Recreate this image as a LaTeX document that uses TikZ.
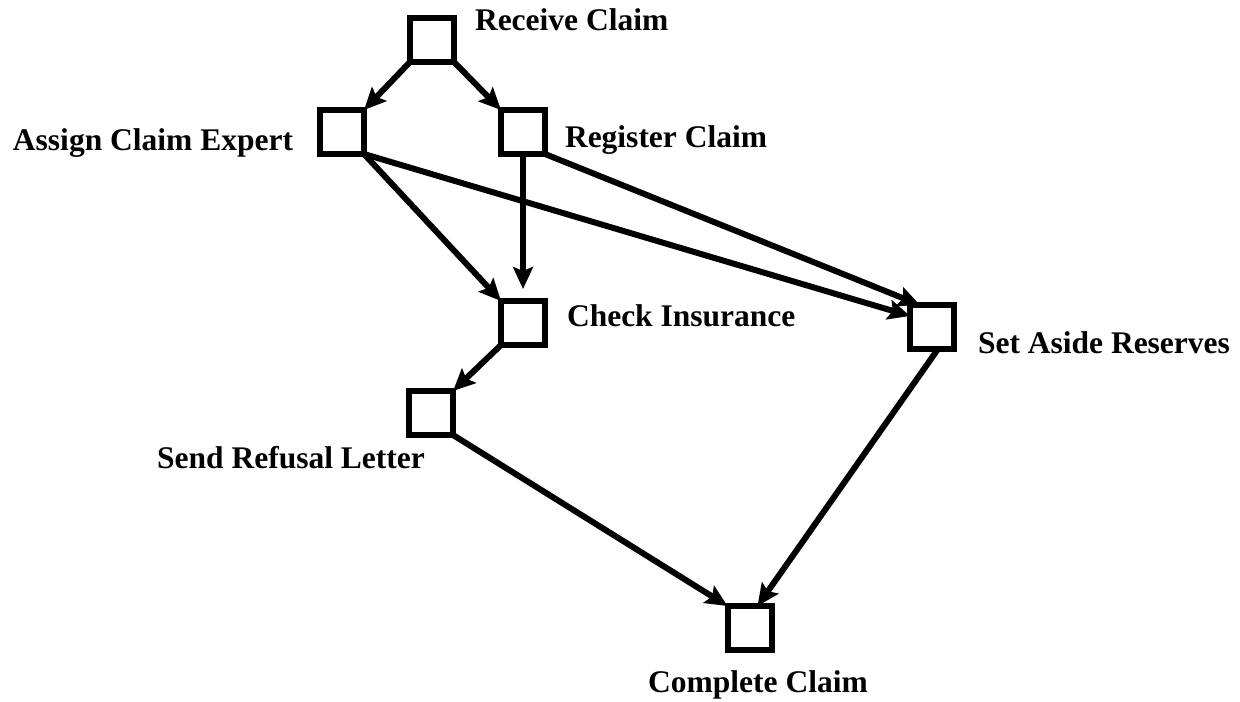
\documentclass[tikz,border=0pt]{standalone}
\usepackage{fontspec}
\setmainfont{Liberation Serif}
\usetikzlibrary{arrows.meta,calc}
\begin{document}
\begin{tikzpicture}[x=0.5pt,y=-0.5pt,
  task/.style={draw=black,line width=3pt,minimum size=22pt,inner sep=0pt,outer sep=0pt,fill=white},
  tasklabel/.style={inner sep=0pt,outer sep=0pt,font=\fontsize{15.75}{18}\selectfont\bfseries},
  flow/.style={line width=3pt,-{Stealth[length=11pt,width=10pt,inset=2pt]}}]
  % canvas
  \useasboundingbox (0,0) rectangle (1240,701);
  % activity boxes
  \node[task] (rc)  at (432,40)  {};
  \node[task] (ace) at (342,132) {};
  \node[task] (reg) at (523,132) {};
  \node[task] (ci)  at (523,323) {};
  \node[task] (sar) at (932,327) {};
  \node[task] (srl) at (431,413) {};
  \node[task] (cc)  at (749.5,628) {};
  % activity names
  \node[tasklabel,anchor=base west] (lrc)  at (475,31)  {Receive Claim};
  \node[tasklabel,anchor=base east] (lace) at (293,150) {Assign Claim Expert};
  \node[tasklabel,anchor=base west] (lreg) at (565,148) {Register Claim};
  \node[tasklabel,anchor=base west] (lci)  at (567,326) {Check Insurance};
  \node[tasklabel,anchor=base west] (lsar) at (978,353) {Set Aside Reserves};
  \node[tasklabel,anchor=base]      (lsrl) at (291,468) {Send Refusal Letter};
  \node[tasklabel,anchor=base]      (lcc)  at (758,692) {Complete Claim};
  % precedence arcs
  \draw[flow] (rc.south west) -- (ace.north east);
  \draw[flow] (rc.south east) -- (reg.north west);
  \draw[flow] (ace.south east) -- (ci.north west);
  \draw[flow,shorten >=6pt] (reg.south) -- (ci.north);
  \draw[flow] (ace.south east) -- ($(sar.west)+(0,-11)$);
  \draw[flow] (reg.south east) -- ($(sar.north west)+(10,0)$);
  \draw[flow] (ci.south west) -- (srl.north east);
  \draw[flow] (srl.south east) -- (cc.north west);
  \draw[flow] ($(sar.south)+(6,0)$) -- ($(cc.north)+(8,0)$);
\end{tikzpicture}
\end{document}
